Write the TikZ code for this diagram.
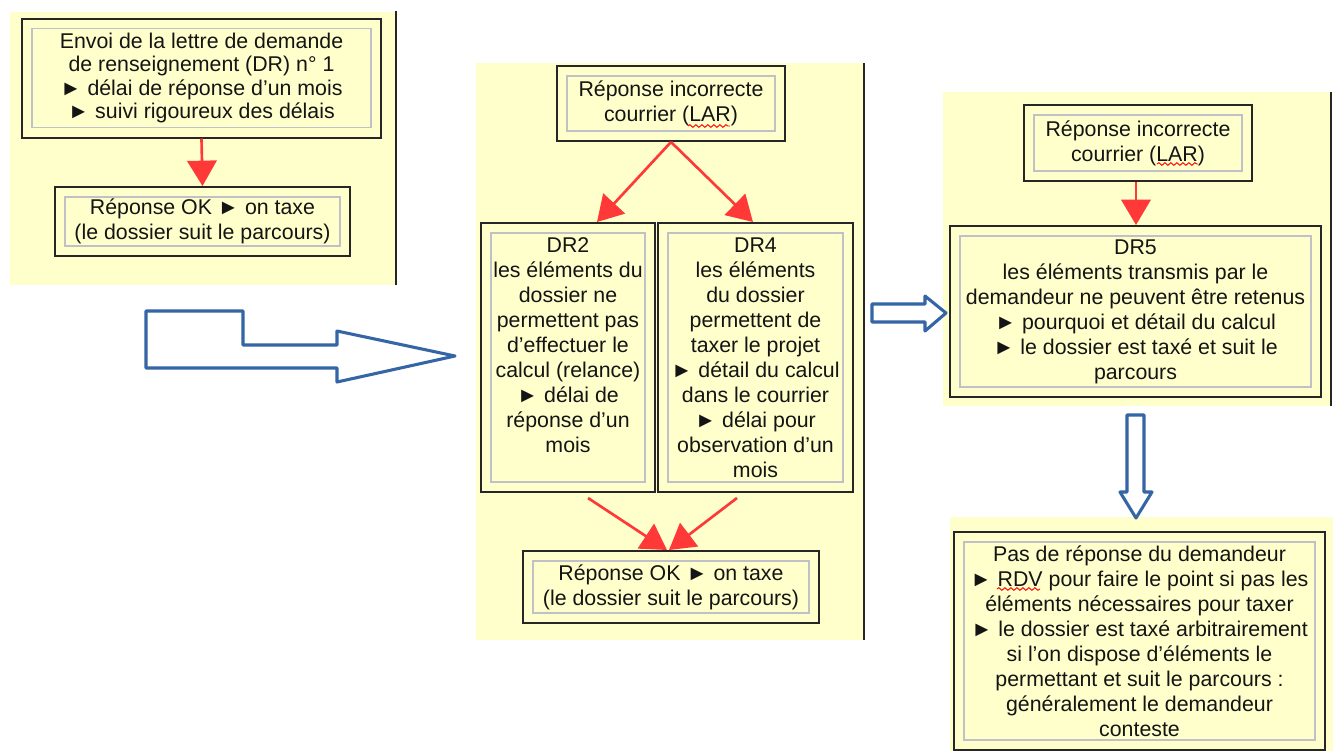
\documentclass[tikz,border=0pt]{standalone}
\usepackage{fontspec}
\setmainfont{Liberation Sans}
\usetikzlibrary{arrows.meta,decorations.pathmorphing}
\definecolor{panel}{RGB}{255,255,204}
\definecolor{redarrow}{RGB}{255,56,56}
\definecolor{bluearrow}{RGB}{52,101,164}
\definecolor{innergray}{RGB}{192,192,200}
\definecolor{txt}{RGB}{20,20,20}
\tikzset{
  box/.style={draw=black!85, line width=1.5pt, fill=panel, inner sep=0pt, align=center,
    font=\fontsize{16}{18.75}\selectfont, text=txt,
    path picture={\draw[innergray, line width=1.1pt]
      ([shift={(7.5pt,-7.5pt)}]path picture bounding box.north west) rectangle
      ([shift={(-7.5pt,7.5pt)}]path picture bounding box.south east);}},
  redarr/.style={draw=redarrow, line width=2pt, -{Triangle[width=22pt,length=19pt]}},
  bluearr/.style={draw=bluearrow, line width=2.3pt, line join=round},
  panelbg/.style={fill=panel},
  edge line/.style={draw=black!85, line width=1.2pt},
  squiggle/.style={draw=red, line width=0.7pt, decorate, decoration={snake, amplitude=1pt, segment length=4.5pt}}
}
\begin{document}
\begin{tikzpicture}[x=0.75pt,y=-0.75pt]
\path[use as bounding box, fill=white] (0,0) rectangle (1335,751);
% panels
\path[panelbg] (10,12) rectangle (395,285);
\path[panelbg] (476,63) rectangle (864,640);
\path[panelbg] (943,92) rectangle (1330,406);
\path[panelbg] (950,517) rectangle (1333,751);
\draw[edge line] (396,11) -- (396,285);
\draw[edge line] (864,63) -- (864,640);
\draw[edge line] (1331,92) -- (1331,406);

% left panel
\node[box, minimum width=269.25pt, minimum height=89.25pt, font=\fontsize{16}{17.5}\selectfont] (b1) at (201.5,78)
  {Envoi de la lettre de demande\\de renseignement (DR) n° 1\\► délai de réponse d’un mois\\► suivi rigoureux des délais};
\node[box, minimum width=221.25pt, minimum height=51.75pt] (b2) at (202.5,221.5)
  {Réponse OK ► on taxe\\(le dossier suit le parcours)};
\draw[redarr] (b1.south) -- (b2.north);

% middle panel
\node[box, minimum width=171pt, minimum height=56.25pt] (larm) at (671,103.5)
  {Réponse incorrecte\\courrier (LAR)};
\node[box, minimum width=130.5pt, minimum height=201.75pt] (dr2) at (568,357.5)
  {DR2\\les éléments du\\dossier ne\\permettent pas\\d’effectuer le\\calcul (relance)\\► délai de\\réponse d’un\\mois\\~};
\node[box, minimum width=146.25pt, minimum height=201.75pt] (dr4) at (755.5,357.5)
  {DR4\\les éléments\\du dossier\\permettent de\\taxer le projet\\► détail du calcul\\dans le courrier\\► délai pour\\observation d’un\\mois};
\node[box, minimum width=222pt, minimum height=54pt] (okm) at (671,587)
  {Réponse OK ► on taxe\\(le dossier suit le parcours)};
\draw[redarr] (larm.south) -- ([xshift=21.75pt]dr2.north);
\draw[redarr] (larm.south) -- ([xshift=-1.9pt]dr4.north);
\draw[redarr] ([shift={(15pt,-3.75pt)}]dr2.south) -- ([xshift=-3pt]okm.north);
\draw[redarr] ([shift={(-13.9pt,-3.75pt)}]dr4.south) -- ([xshift=-1.5pt]okm.north);
\draw[squiggle] (688,126) -- (730,126);

% right panel
\node[box, minimum width=171pt, minimum height=57pt] (larr) at (1138,143)
  {Réponse incorrecte\\courrier (LAR)};
\node[box, minimum width=278.25pt, minimum height=128.25pt] (dr5) at (1135.5,311.5)
  {DR5\\les éléments transmis par le\\demandeur ne peuvent être retenus\\► pourquoi et détail du calcul\\► le dossier est taxé et suit le\\parcours};
\draw[redarr] ([xshift=-1.5pt]larr.south) -- ([xshift=-1.5pt]larr.south |- dr5.north);
\draw[squiggle] (1157,164) -- (1198,164);

% bottom right
\node[box, minimum width=278.25pt, minimum height=163.5pt] (nr) at (1139.5,641)
  {Pas de réponse du demandeur\\► RDV pour faire le point si pas les\\éléments nécessaires pour taxer\\► le dossier est taxé arbitrairement\\si l’on dispose d’éléments le\\permettant et suit le parcours :\\généralement le demandeur\\conteste};
\draw[squiggle] (997,589) -- (1040,589);

% blue hollow arrows
\draw[bluearr] (146,311) -- (243,311) -- (243,345) -- (337,345) -- (337,331) -- (455,356)
  -- (337,382) -- (337,368) -- (146,368) -- cycle;
\draw[bluearr] (872,304) -- (925,304) -- (925,296) -- (946,313) -- (925,331) -- (925,322)
  -- (872,322) -- cycle;
\draw[bluearr] (1127,415) -- (1144,415) -- (1144,492) -- (1152,492) -- (1136,518) -- (1120,492)
  -- (1127,492) -- cycle;
\end{tikzpicture}
\end{document}
